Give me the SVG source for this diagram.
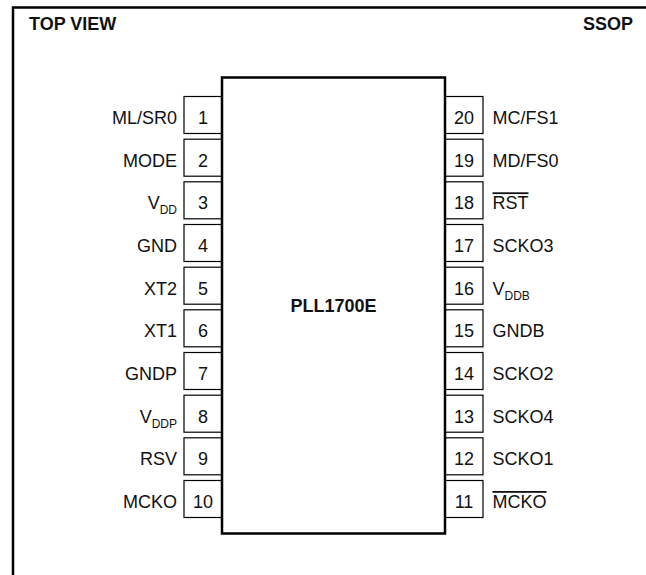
<svg xmlns="http://www.w3.org/2000/svg" width="646" height="575" viewBox="0 0 646 575">
<style>
.frame{fill:none;stroke:#000;stroke-width:2.5}
.chip{fill:#fff;stroke:#000;stroke-width:2.5}
.pin{fill:#fff;stroke:#000;stroke-width:1.2}
text{font-family:"Liberation Sans",Arial,sans-serif;fill:#111}
.lbl{font-size:18px}
.l{text-anchor:end}
.num{font-size:18px;text-anchor:middle}
.title{font-size:18px;font-weight:bold}
.sub{font-size:12px}
.ov{text-decoration:overline}
</style>
<rect class="frame" x="13" y="7.5" width="660" height="600"/>
<text class="title" x="29" y="30">TOP VIEW</text>
<text class="title" x="633" y="30" text-anchor="end">SSOP</text>
<g id="pins-left">
<g id="pin1"><rect class="pin" x="184" y="96.5" width="38" height="37"/><text class="num" x="203" y="124">1</text><text class="lbl l" x="177" y="124">ML/SR0</text></g>
<g id="pin2"><rect class="pin" x="184" y="139.2" width="38" height="37"/><text class="num" x="203" y="166.7">2</text><text class="lbl l" x="177" y="166.7">MODE</text></g>
<g id="pin3"><rect class="pin" x="184" y="181.8" width="38" height="37"/><text class="num" x="203" y="209.3">3</text><text class="lbl l" x="177" y="209.3">V<tspan class="sub" dy="5">DD</tspan></text></g>
<g id="pin4"><rect class="pin" x="184" y="224.5" width="38" height="37"/><text class="num" x="203" y="252">4</text><text class="lbl l" x="177" y="252">GND</text></g>
<g id="pin5"><rect class="pin" x="184" y="267.2" width="38" height="37"/><text class="num" x="203" y="294.7">5</text><text class="lbl l" x="177" y="294.7">XT2</text></g>
<g id="pin6"><rect class="pin" x="184" y="309.8" width="38" height="37"/><text class="num" x="203" y="337.3">6</text><text class="lbl l" x="177" y="337.3">XT1</text></g>
<g id="pin7"><rect class="pin" x="184" y="352.5" width="38" height="37"/><text class="num" x="203" y="380">7</text><text class="lbl l" x="177" y="380">GNDP</text></g>
<g id="pin8"><rect class="pin" x="184" y="395.2" width="38" height="37"/><text class="num" x="203" y="422.7">8</text><text class="lbl l" x="177" y="422.7">V<tspan class="sub" dy="5">DDP</tspan></text></g>
<g id="pin9"><rect class="pin" x="184" y="437.8" width="38" height="37"/><text class="num" x="203" y="465.3">9</text><text class="lbl l" x="177" y="465.3">RSV</text></g>
<g id="pin10"><rect class="pin" x="184" y="480.5" width="38" height="37"/><text class="num" x="203" y="508">10</text><text class="lbl l" x="177" y="508">MCKO</text></g>
</g>
<g id="pins-right">
<g id="pin20"><rect class="pin" x="445" y="96.5" width="38" height="37"/><text class="num" x="464" y="124">20</text><text class="lbl" x="492.5" y="124">MC/FS1</text></g>
<g id="pin19"><rect class="pin" x="445" y="139.2" width="38" height="37"/><text class="num" x="464" y="166.7">19</text><text class="lbl" x="492.5" y="166.7">MD/FS0</text></g>
<g id="pin18"><rect class="pin" x="445" y="181.8" width="38" height="37"/><text class="num" x="464" y="209.3">18</text><text class="lbl ov" x="492.5" y="209.3">RST</text></g>
<g id="pin17"><rect class="pin" x="445" y="224.5" width="38" height="37"/><text class="num" x="464" y="252">17</text><text class="lbl" x="492.5" y="252">SCKO3</text></g>
<g id="pin16"><rect class="pin" x="445" y="267.2" width="38" height="37"/><text class="num" x="464" y="294.7">16</text><text class="lbl" x="492.5" y="294.7">V<tspan class="sub" dy="5">DDB</tspan></text></g>
<g id="pin15"><rect class="pin" x="445" y="309.8" width="38" height="37"/><text class="num" x="464" y="337.3">15</text><text class="lbl" x="492.5" y="337.3">GNDB</text></g>
<g id="pin14"><rect class="pin" x="445" y="352.5" width="38" height="37"/><text class="num" x="464" y="380">14</text><text class="lbl" x="492.5" y="380">SCKO2</text></g>
<g id="pin13"><rect class="pin" x="445" y="395.2" width="38" height="37"/><text class="num" x="464" y="422.7">13</text><text class="lbl" x="492.5" y="422.7">SCKO4</text></g>
<g id="pin12"><rect class="pin" x="445" y="437.8" width="38" height="37"/><text class="num" x="464" y="465.3">12</text><text class="lbl" x="492.5" y="465.3">SCKO1</text></g>
<g id="pin11"><rect class="pin" x="445" y="480.5" width="38" height="37"/><text class="num" x="464" y="508">11</text><text class="lbl ov" x="492.5" y="508">MCKO</text></g>
</g>
<g id="chip"><rect class="chip" x="222" y="77.5" width="223" height="456"/><text class="title" x="333.5" y="312" text-anchor="middle">PLL1700E</text></g>
<g id="connectors"></g>
</svg>
